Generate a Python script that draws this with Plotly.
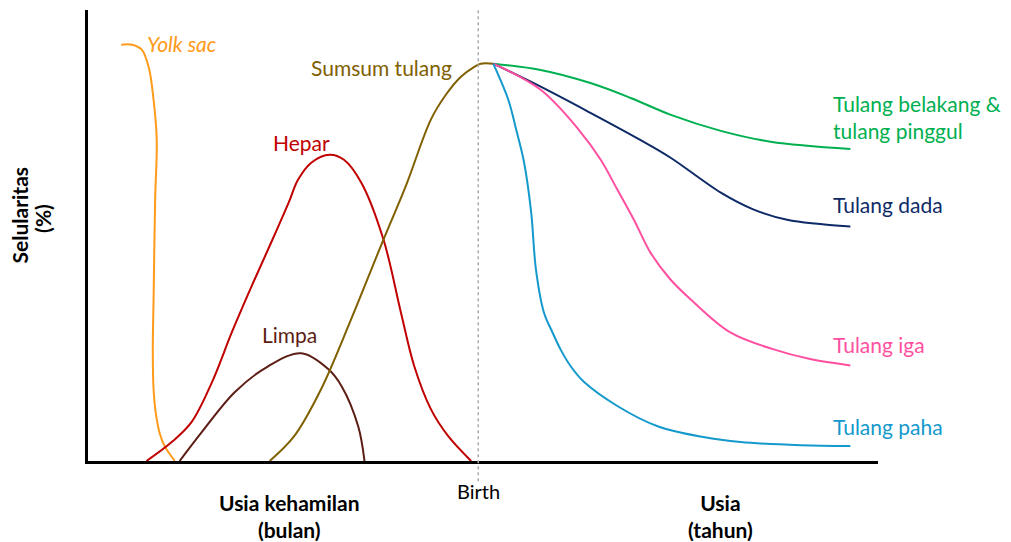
import plotly.graph_objects as go

# Arbitrary time axis (0-100): left of birth = gestation, right = age
# Y = cellularity (%)
yolk_x = [4.2, 5.6, 6.8, 7.7, 8.3, 8.7, 8.5, 8.3, 8.2, 8.3, 8.6, 9.1, 9.7, 11.0]
yolk_y = [92.3, 92.3, 91.2, 87.2, 80.1, 71.2, 58.0, 35.8, 24.8, 15.9, 10.4, 6.0, 3.3, 0]

hepar_x = [7.4, 10.6, 13.1, 15.7, 18.2, 20.7, 23.2, 25.4, 26.6, 28.3, 30.6, 32.4, 34.6, 37.4, 39.6, 41.3, 43.4, 45.6, 48.5]
hepar_y = [0, 4.2, 8.6, 17.5, 28.5, 38.7, 48.5, 57.3, 62.4, 66.2, 67.9, 66.8, 61.7, 49.1, 33.0, 21.0, 11.5, 5.5, 0]

limpa_x = [11.6, 14.4, 18.6, 22.8, 27.0, 30.4, 32.1, 34.2, 35.0]
limpa_y = [0, 6.4, 15.3, 21.0, 23.9, 20.4, 16.6, 7.7, 0]

sumsum_x = [23.0, 26.1, 29.5, 33.3, 37.4, 40.3, 43.4, 45.3, 47.2, 48.9, 49.7, 51.3]
sumsum_y = [0, 5.5, 15.9, 31.4, 49.1, 61.3, 75.7, 81.2, 85.2, 87.4, 88.1, 88.1]

belakang_x = [51.3, 57.3, 63.6, 68.7, 73.7, 80.1, 86.4, 96.5]
belakang_y = [88.1, 86.7, 83.8, 80.5, 76.8, 73.2, 70.8, 69.2]

dada_x = [51.3, 57.3, 63.6, 69.9, 73.7, 80.1, 84.2, 88.5, 96.5]
dada_y = [88.1, 83.0, 77.2, 71.2, 67.3, 59.5, 55.8, 53.5, 52.0]

iga_x = [51.3, 57.3, 62.1, 64.9, 67.0, 69.1, 71.2, 73.7, 76.3, 81.3, 86.7, 91.4, 96.5]
iga_y = [88.1, 82.3, 73.5, 66.8, 60.2, 53.5, 46.2, 40.3, 35.8, 28.5, 24.8, 22.6, 21.2]

paha_x = [51.3, 53.2, 54.2, 55.2, 56.1, 56.7, 57.7, 58.8, 59.8, 61.1, 62.8, 67.0, 72.1, 77.9, 82.6, 90.2, 96.5]
paha_y = [88.1, 80.1, 73.5, 66.2, 55.1, 42.5, 33.0, 28.5, 24.8, 21.0, 17.5, 12.2, 7.7, 5.3, 4.2, 3.5, 3.3]

birth_x = 49.4

FONT = "Lato"
SIZE = 21

series = [
    (yolk_x, yolk_y, "#FF9A1A"),
    (hepar_x, hepar_y, "#C00000"),
    (limpa_x, limpa_y, "#5C1E14"),
    (sumsum_x, sumsum_y, "#806000"),
    (belakang_x, belakang_y, "#00B050"),
    (dada_x, dada_y, "#0E2A66"),
    (iga_x, iga_y, "#FF4FA0"),
    (paha_x, paha_y, "#1399CC"),
]

fig = go.Figure()
for xs, ys, col in series:
    fig.add_trace(go.Scatter(
        x=xs, y=ys, mode="lines",
        line=dict(color=col, width=2, shape="spline", smoothing=1.0),
        showlegend=False, hoverinfo="skip",
    ))

# Birth marker
fig.add_shape(type="line", xref="x", yref="paper", x0=birth_x, x1=birth_x,
              y0=-0.045, y1=1.01, line=dict(color="#AAAAAA", width=1.5, dash="dot"))

labels = [
    ("<i>Yolk sac</i>", 11.9, 92.5, "#FF9A1A", "center"),
    ("Sumsum tulang", 37.1, 87.2, "#806000", "center"),
    ("Hepar", 27.0, 70.6, "#C00000", "center"),
    ("Limpa", 25.5, 28.1, "#5C1E14", "center"),
    ("Tulang belakang &<br>tulang pinggul", 94.1, 76.3, "#00B050", "left"),
    ("Tulang dada", 94.1, 56.9, "#0E2A66", "left"),
    ("Tulang iga", 94.1, 25.9, "#FF4FA0", "left"),
    ("Tulang paha", 94.1, 7.7, "#1399CC", "left"),
]
for text, x, y, col, anchor in labels:
    fig.add_annotation(x=x, y=y, xref="x", yref="y", text=text, showarrow=False,
                       xanchor=anchor, yanchor="middle", align="left",
                       font=dict(family=FONT, size=SIZE, color=col))

fig.add_annotation(x=birth_x, y=-0.0665, xref="x", yref="paper", text="Birth",
                   showarrow=False, xanchor="center", yanchor="middle",
                   font=dict(family=FONT, size=20, color="black"))
fig.add_annotation(x=25.5, y=-0.122, xref="x", yref="paper",
                   text="<b>Usia kehamilan</b><br><b>(bulan)</b>", showarrow=False,
                   xanchor="center", yanchor="middle",
                   font=dict(family=FONT, size=SIZE, color="black"))
fig.add_annotation(x=80.1, y=-0.122, xref="x", yref="paper",
                   text="<b>Usia</b><br><b>(tahun)</b>", showarrow=False,
                   xanchor="center", yanchor="middle",
                   font=dict(family=FONT, size=SIZE, color="black"))
# y-axis title, two rotated lines
fig.add_annotation(x=-0.087, y=0.545, xref="paper", yref="paper",
                   text="<b>Selularitas</b>", showarrow=False, textangle=-90,
                   xanchor="center", yanchor="middle", borderpad=0,
                   font=dict(family=FONT, size=SIZE, color="black"))
fig.add_annotation(x=-0.057, y=0.539, xref="paper", yref="paper",
                   text="<b>(%)</b>", showarrow=False, textangle=-90,
                   xanchor="center", yanchor="middle", borderpad=0,
                   font=dict(family=FONT, size=SIZE, color="black"))

fig.update_xaxes(range=[0, 100], showline=True, linewidth=3, linecolor="black",
                 showgrid=False, zeroline=False, showticklabels=False, ticks="")
fig.update_yaxes(range=[0, 100], showline=True, linewidth=3, linecolor="black",
                 showgrid=False, zeroline=False, showticklabels=False, ticks="")

fig.update_layout(
    width=1003, height=534,
    margin=dict(l=80, r=133, t=2, b=81),
    plot_bgcolor="white", paper_bgcolor="white",
)

fig.write_html("out.html")
